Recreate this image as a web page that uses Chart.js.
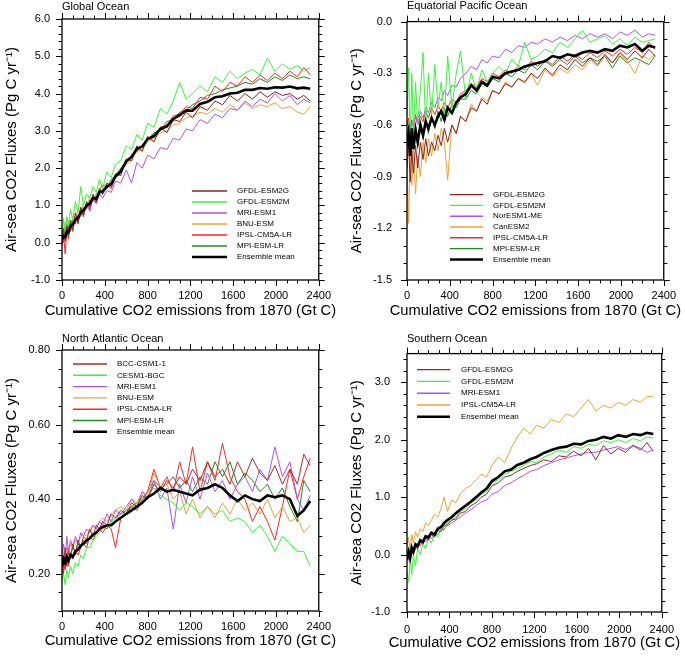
<!DOCTYPE html>
<html>
<head>
<meta charset="utf-8">
<script src="https://cdn.jsdelivr.net/npm/chart.js@4.4.1/dist/chart.umd.min.js"></script>
<style>
  body { margin: 0; background: #fff; }
  #wrap { position: relative; width: 685px; height: 659px; background: #fff; }
  canvas { position: absolute; }
</style>
</head>
<body>
<div id="wrap">
  <canvas id="c1" width="340" height="330" style="left:0;top:0"></canvas>
  <canvas id="c2" width="345" height="330" style="left:340px;top:0"></canvas>
  <canvas id="c3" width="340" height="329" style="left:0;top:330px"></canvas>
  <canvas id="c4" width="345" height="329" style="left:340px;top:330px"></canvas>
</div>
<script>
// cumulative CO2 emissions since 1870 (Gt C), shared x values of every series
const CUM_EMISSIONS = [0,15,30,45,60,80,100,125,150,175,200,230,260,290,320,350,380,420,460,500,
  550,600,650,700,750,800,860,920,980,1040,1100,1160,1220,1290,1360,1430,1500,1570,1640,1710,
  1780,1850,1920,1990,2060,2130,2200,2260,2320];
const X_TICKS = [0, 400, 800, 1200, 1600, 2000, 2400];
const X_TITLE = 'Cumulative CO2 emissions from 1870 (Gt C)';
const Y_TITLE = 'Air-sea CO2 Fluxes (Pg C yr\u207B\u00B9)';

// ---- Global Ocean
const globalYTicks = [-1, 0, 1, 2, 3, 4, 5, 6];
const globalEsm2g = [0.0,0.35,0.05,0.45,0.2,0.6,0.35,0.8,0.55,0.95,0.75,1.1,0.95,1.3,1.1,1.45,1.3,1.6,1.5,1.85,
  1.8,2.25,2.2,2.6,2.45,2.85,2.7,3.1,2.95,3.3,3.25,3.5,3.35,3.65,3.55,3.8,3.7,3.95,3.8,4.0,
  3.85,4.05,3.9,4.05,3.95,4.0,3.85,3.95,3.8];
const globalEsm2m = [0.3,0.65,0.1,0.7,0.45,0.9,0.6,1.1,0.8,1.5,1.0,1.3,1.2,1.5,1.35,1.7,1.45,1.9,1.75,2.1,
  2.2,2.6,2.5,2.9,2.75,3.2,3.1,3.6,3.45,3.8,4.3,3.85,4.0,4.2,4.05,4.45,4.3,4.6,4.4,4.55,
  4.65,4.5,4.95,4.6,4.8,4.65,4.75,4.6,4.7];
const globalMri = [0.1,0.4,0.2,0.5,0.3,0.55,0.45,0.7,0.6,0.85,0.75,1.05,0.9,1.15,1.05,1.3,1.2,1.4,1.35,1.65,
  1.6,1.95,1.6,2.15,2.0,2.35,2.25,2.55,2.5,2.8,2.75,3.05,3.0,3.3,3.2,3.45,3.35,3.6,3.55,3.8,
  3.65,3.85,3.75,4.0,3.8,3.95,3.7,3.85,3.75];
const globalBnu = [0.4,0.2,0.55,0.3,0.6,0.45,0.7,0.65,0.9,0.85,1.05,1.0,1.2,1.15,1.3,1.45,1.5,1.6,1.55,1.8,
  1.9,2.1,2.2,2.45,2.5,2.7,2.8,2.95,3.0,3.15,3.2,3.35,3.4,3.5,3.45,3.6,3.5,3.7,3.55,3.75,
  3.6,3.7,3.65,3.75,3.6,3.65,3.5,3.45,3.65];
const globalIpsl = [-0.1,0.2,-0.3,0.35,0.1,0.5,0.3,0.7,0.5,0.9,0.7,1.05,0.85,1.25,1.05,1.4,1.3,1.55,1.45,1.75,
  1.85,2.15,2.3,2.45,2.6,2.8,2.9,3.1,3.15,3.4,3.45,3.65,3.6,3.9,3.85,4.2,4.05,4.3,4.2,4.45,
  4.3,4.5,4.35,4.55,4.4,4.6,4.45,4.7,4.5];
const globalMpi = [0.2,0.0,0.4,0.15,0.5,0.3,0.6,0.5,0.75,0.7,0.95,0.9,1.15,1.1,1.3,1.4,1.55,1.5,1.7,1.8,
  2.0,2.15,2.35,2.45,2.6,2.75,2.95,3.0,3.25,3.3,3.5,3.55,3.7,3.8,3.95,4.0,4.1,4.15,4.2,4.3,
  4.25,4.4,4.3,4.45,4.35,4.5,4.4,4.45,4.4];
const globalMean = [0.08,0.18,0.15,0.3,0.28,0.45,0.48,0.62,0.66,0.82,0.86,1.0,1.05,1.2,1.18,1.35,1.38,1.5,1.58,1.78,
  1.92,2.18,2.3,2.52,2.58,2.78,2.86,3.05,3.12,3.32,3.42,3.55,3.54,3.72,3.78,3.9,3.93,4.0,4.02,4.1,
  4.1,4.15,4.13,4.17,4.16,4.19,4.14,4.16,4.13];

// ---- Equatorial Pacific Ocean
const eqYTicks = [-1.5, -1.2, -0.9, -0.6, -0.3, 0.0];
const eqEsm2g = [-0.85,-0.7,-0.93,-0.75,-0.88,-0.72,-0.85,-0.7,-0.8,-0.68,-0.78,-0.7,-0.75,-0.66,-0.72,-0.62,-0.7,-0.6,-0.65,-0.55,
  -0.58,-0.5,-0.52,-0.45,-0.48,-0.4,-0.42,-0.36,-0.38,-0.33,-0.35,-0.3,-0.33,-0.27,-0.31,-0.25,-0.28,-0.22,-0.26,-0.21,
  -0.25,-0.19,-0.24,-0.18,-0.22,-0.17,-0.21,-0.16,-0.2];
const eqEsm2m = [-0.55,-0.27,-0.7,-0.3,-0.65,-0.35,-0.6,-0.4,-0.18,-0.62,-0.3,-0.55,-0.25,-0.5,-0.35,-0.55,-0.2,-0.5,-0.3,-0.17,
  -0.45,-0.3,-0.4,-0.28,-0.35,-0.3,-0.26,-0.3,-0.22,-0.26,-0.12,-0.22,-0.2,-0.16,-0.18,-0.12,-0.15,-0.1,-0.05,-0.12,
  -0.1,-0.08,-0.13,-0.1,-0.14,-0.09,-0.12,-0.11,-0.1];
const eqNoresm = [-0.65,-0.6,-0.68,-0.58,-0.62,-0.55,-0.6,-0.52,-0.56,-0.5,-0.53,-0.47,-0.5,-0.44,-0.46,-0.4,-0.43,-0.37,-0.38,-0.33,
  -0.3,-0.26,-0.28,-0.22,-0.24,-0.2,-0.21,-0.16,-0.18,-0.14,-0.15,-0.12,-0.13,-0.1,-0.12,-0.09,-0.11,-0.08,-0.1,-0.07,
  -0.09,-0.07,-0.1,-0.06,-0.08,-0.05,-0.09,-0.07,-0.08];
const eqCanesm = [-0.8,-1.17,-0.75,-0.95,-0.72,-1.0,-0.78,-0.9,-0.7,-0.82,-0.68,-0.78,-0.65,-0.75,-0.62,-0.7,-0.92,-0.6,-0.65,-0.55,
  -0.58,-0.48,-0.52,-0.44,-0.46,-0.4,-0.42,-0.35,-0.38,-0.33,-0.36,-0.3,-0.37,-0.28,-0.32,-0.27,-0.3,-0.25,-0.28,-0.22,
  -0.26,-0.2,-0.24,-0.19,-0.23,-0.3,-0.2,-0.22,-0.19];
const eqIpsl = [-0.6,-0.56,-0.63,-0.57,-0.6,-0.54,-0.6,-0.55,-0.58,-0.52,-0.56,-0.5,-0.54,-0.49,-0.52,-0.47,-0.5,-0.45,-0.47,-0.42,
  -0.4,-0.36,-0.38,-0.33,-0.35,-0.3,-0.32,-0.28,-0.3,-0.26,-0.28,-0.23,-0.26,-0.22,-0.25,-0.2,-0.23,-0.19,-0.22,-0.18,
  -0.21,-0.17,-0.2,-0.16,-0.19,-0.15,-0.18,-0.12,-0.16];
const eqMpi = [-0.78,-0.65,-0.8,-0.62,-0.75,-0.6,-0.72,-0.58,-0.68,-0.57,-0.65,-0.55,-0.62,-0.52,-0.58,-0.5,-0.55,-0.48,-0.5,-0.45,
  -0.45,-0.4,-0.42,-0.36,-0.38,-0.33,-0.35,-0.3,-0.32,-0.28,-0.3,-0.25,-0.28,-0.23,-0.26,-0.22,-0.25,-0.2,-0.24,-0.21,
  -0.23,-0.2,-0.27,-0.2,-0.24,-0.21,-0.23,-0.25,-0.2];
const eqMean = [-0.72,-0.65,-0.78,-0.62,-0.74,-0.63,-0.7,-0.6,-0.66,-0.58,-0.62,-0.56,-0.6,-0.55,-0.52,-0.57,-0.5,-0.53,-0.47,-0.44,
  -0.42,-0.37,-0.4,-0.35,-0.37,-0.32,-0.33,-0.3,-0.29,-0.28,-0.26,-0.25,-0.24,-0.23,-0.2,-0.21,-0.19,-0.2,-0.18,-0.17,
  -0.18,-0.16,-0.17,-0.14,-0.15,-0.13,-0.17,-0.14,-0.15];

// ---- North Atlantic Ocean
const naYTicks = [0.2, 0.4, 0.6, 0.8];
const naBcc = [0.24,0.2,0.27,0.22,0.26,0.24,0.28,0.25,0.29,0.27,0.3,0.29,0.32,0.3,0.33,0.32,0.34,0.33,0.36,0.35,
  0.37,0.36,0.39,0.38,0.41,0.4,0.44,0.42,0.45,0.43,0.46,0.44,0.48,0.45,0.5,0.46,0.48,0.44,0.5,0.46,
  0.51,0.47,0.45,0.49,0.44,0.48,0.44,0.52,0.49];
const naCesm = [0.18,0.2,0.17,0.21,0.19,0.22,0.2,0.23,0.22,0.25,0.24,0.27,0.27,0.29,0.3,0.31,0.32,0.33,0.34,0.35,
  0.35,0.37,0.37,0.39,0.4,0.41,0.43,0.41,0.4,0.39,0.37,0.39,0.38,0.36,0.38,0.36,0.37,0.34,0.35,0.34,
  0.31,0.33,0.3,0.26,0.3,0.28,0.26,0.26,0.22];
const naMri = [0.25,0.28,0.24,0.3,0.26,0.29,0.27,0.3,0.28,0.31,0.3,0.32,0.31,0.33,0.32,0.34,0.33,0.36,0.34,0.37,
  0.36,0.38,0.4,0.38,0.42,0.4,0.45,0.4,0.43,0.32,0.44,0.39,0.46,0.4,0.47,0.42,0.45,0.4,0.44,0.46,
  0.42,0.48,0.45,0.54,0.46,0.5,0.4,0.37,0.41];
const naBnu = [0.23,0.26,0.24,0.27,0.25,0.28,0.27,0.29,0.28,0.3,0.31,0.3,0.32,0.33,0.32,0.34,0.35,0.34,0.36,0.37,
  0.38,0.37,0.4,0.39,0.42,0.41,0.47,0.43,0.44,0.4,0.42,0.36,0.4,0.35,0.38,0.35,0.39,0.36,0.4,0.37,
  0.39,0.36,0.4,0.35,0.38,0.34,0.35,0.31,0.33];
const naIpsl = [0.2,0.23,0.21,0.24,0.22,0.25,0.24,0.26,0.25,0.27,0.28,0.27,0.3,0.29,0.31,0.32,0.31,0.33,0.32,0.27,
  0.35,0.36,0.38,0.37,0.4,0.42,0.48,0.43,0.46,0.42,0.5,0.44,0.54,0.42,0.5,0.45,0.55,0.46,0.42,0.4,
  0.34,0.38,0.34,0.29,0.38,0.48,0.4,0.46,0.51];
const naMpi = [0.25,0.22,0.26,0.24,0.27,0.25,0.27,0.26,0.28,0.27,0.29,0.28,0.3,0.3,0.31,0.32,0.33,0.32,0.34,0.35,
  0.36,0.37,0.38,0.39,0.4,0.42,0.45,0.43,0.44,0.46,0.43,0.45,0.42,0.46,0.44,0.5,0.46,0.5,0.44,0.47,
  0.45,0.42,0.44,0.4,0.43,0.38,0.34,0.45,0.42];
const naMean = [0.22,0.24,0.23,0.245,0.235,0.25,0.245,0.26,0.265,0.275,0.28,0.29,0.295,0.305,0.31,0.32,0.325,0.33,0.33,0.34,
  0.35,0.36,0.37,0.38,0.39,0.405,0.415,0.43,0.42,0.425,0.42,0.415,0.41,0.425,0.43,0.44,0.43,0.41,0.395,0.41,
  0.4,0.395,0.41,0.405,0.41,0.4,0.355,0.37,0.395];

// ---- Southern Ocean
const soYTicks = [-1, 0, 1, 2, 3];
const soEsm2g = [-0.1,0.05,-0.15,0.1,0.0,0.15,0.1,0.22,0.18,0.3,0.25,0.35,0.3,0.42,0.4,0.5,0.52,0.6,0.62,0.72,
  0.75,0.85,0.9,1.0,1.05,1.2,1.25,1.35,1.38,1.45,1.5,1.55,1.58,1.65,1.62,1.72,1.7,1.8,1.72,1.85,
  1.65,1.9,1.75,1.85,1.78,1.9,1.82,1.95,1.8];
const soEsm2m = [-0.3,-0.48,-0.1,-0.35,0.0,-0.2,0.1,0.0,0.2,0.1,0.28,0.2,0.38,0.3,0.45,0.42,0.55,0.6,0.65,0.75,
  0.8,0.9,0.95,1.05,1.1,1.25,1.3,1.4,1.45,1.5,1.55,1.62,1.6,1.7,1.75,1.82,1.78,1.88,1.85,1.92,
  1.9,1.98,1.95,2.0,1.95,2.02,1.98,2.05,2.03];
const soMri = [0.0,-0.1,0.08,0.0,0.12,0.08,0.18,0.15,0.25,0.22,0.3,0.28,0.36,0.35,0.42,0.45,0.5,0.55,0.6,0.65,
  0.72,0.78,0.85,0.92,0.95,1.05,1.1,1.2,1.25,1.32,1.38,1.45,1.48,1.55,1.6,1.65,1.68,1.72,1.75,1.78,
  1.78,1.82,1.85,1.88,1.83,1.9,1.85,1.78,1.82];
const soIpsl = [0.15,0.3,0.05,0.35,0.2,0.4,0.3,0.45,0.4,0.55,0.5,0.6,0.7,0.65,0.8,1.0,0.75,0.95,0.9,1.05,
  1.15,1.2,1.3,1.4,1.35,1.55,1.7,1.6,1.85,2.05,2.2,2.1,2.25,2.2,2.35,2.3,2.45,2.4,2.55,2.7,
  2.5,2.6,2.55,2.65,2.6,2.7,2.65,2.75,2.75];
const soMean = [-0.08,0.05,-0.05,0.12,0.05,0.18,0.15,0.25,0.22,0.32,0.3,0.38,0.35,0.45,0.48,0.55,0.6,0.65,0.72,0.78,
  0.85,0.92,1.0,1.08,1.15,1.28,1.35,1.45,1.48,1.56,1.6,1.66,1.7,1.77,1.82,1.86,1.88,1.93,1.92,1.98,
  2.0,2.05,2.02,2.08,2.05,2.1,2.08,2.12,2.1];

const COL = {
  brown: '#8e1f1f',
  lime: '#38f538',
  purple: '#b050f0',
  orange: '#eca236',
  red: '#ff2626',
  green: '#1e8c1e',
  black: '#000000'
};

const FONT = "'Liberation Sans', Arial, Helvetica, sans-serif";
Chart.defaults.font.family = FONT;
Chart.defaults.color = '#000';

// frame, ticks (major + minor on all four sides), panel title, x title and legend
const framePlugin = {
  id: 'frame',
  afterDraw(chart, args, o) {
    const ctx = chart.ctx;
    const a = chart.chartArea;
    const xs = chart.scales.x, ys = chart.scales.y;
    ctx.save();
    ctx.strokeStyle = '#000';
    ctx.lineWidth = 1.3;
    ctx.strokeRect(a.left, a.top, a.right - a.left, a.bottom - a.top);

    ctx.lineWidth = 1;
    ctx.beginPath();
    const nx = Math.round((xs.max - xs.min) / o.xMinor);
    for (let i = 0; i <= nx; i++) {
      const v = xs.min + i * o.xMinor;
      const len = X_TICKS.some(t => Math.abs(t - v) < 1e-6) ? 6 : 3.5;
      const px = Math.round(xs.getPixelForValue(v)) + 0.5;
      ctx.moveTo(px, a.bottom); ctx.lineTo(px, a.bottom + len);
      ctx.moveTo(px, a.top); ctx.lineTo(px, a.top - len);
    }
    const ny = Math.floor((ys.max - ys.min) / o.yMinor + 1e-6);
    for (let i = 0; i <= ny; i++) {
      const v = ys.min + i * o.yMinor;
      const len = o.yTicks.some(t => Math.abs(t - v) < 1e-6) ? 6 : 3.5;
      const py = Math.round(ys.getPixelForValue(v)) + 0.5;
      ctx.moveTo(a.left, py); ctx.lineTo(a.left - len, py);
      ctx.moveTo(a.right, py); ctx.lineTo(a.right + len, py);
    }
    ctx.stroke();

    ctx.fillStyle = '#000';
    ctx.font = '11px ' + FONT;
    ctx.textAlign = 'left';
    ctx.textBaseline = 'alphabetic';
    ctx.fillText(o.title, a.left, o.titleY);

    // x axis title, drawn without the scale-width squeeze
    ctx.font = '14.7px ' + FONT;
    ctx.textAlign = 'center';
    ctx.textBaseline = 'middle';
    ctx.fillText(X_TITLE, (a.left + a.right) / 2, o.xTitleY);

    const lg = o.legend;
    ctx.font = '8px ' + FONT;
    ctx.textAlign = 'left';
    chart.data.datasets.forEach((d, i) => {
      const y = a.top + lg.dy + i * lg.gap;
      ctx.beginPath();
      ctx.strokeStyle = d.borderColor;
      ctx.lineWidth = d.order === 0 ? 2.5 : 1.4;
      ctx.moveTo(a.left + lg.dx, y);
      ctx.lineTo(a.left + lg.dx + lg.len, y);
      ctx.stroke();
      ctx.fillText(d.label, a.left + lg.textDx, y);
    });
    ctx.restore();
  }
};

function buildPanel(id, p) {
  const datasets = p.series.map(s => ({
    label: s.name,
    data: CUM_EMISSIONS.map((x, k) => ({ x: x, y: s.values[k] })),
    borderColor: s.color,
    borderWidth: s.mean ? 2.6 : 1,
    pointRadius: 0,
    tension: 0,
    order: s.mean ? 0 : 1
  }));

  new Chart(document.getElementById(id), {
    type: 'line',
    data: { datasets: datasets },
    plugins: [framePlugin],
    options: {
      responsive: false,
      animation: false,
      events: [],
      layout: { padding: { left: 0, top: p.pad.top, right: p.pad.right, bottom: p.pad.bottom } },
      plugins: {
        legend: { display: false },
        tooltip: { enabled: false },
        frame: {
          title: p.title, titleY: p.titleY, xTitleY: p.xTitleY,
          xMinor: 100, yMinor: p.yMinor, yTicks: p.yTicks,
          legend: p.legend
        }
      },
      scales: {
        x: {
          type: 'linear',
          min: 0,
          max: 2400,
          afterBuildTicks: s => { s.ticks = X_TICKS.map(v => ({ value: v })); },
          afterFit: s => { s.height = p.xAxisH; },
          grid: { display: false, drawTicks: false },
          border: { display: false },
          ticks: { font: { size: 11 }, padding: p.xTickPad, maxRotation: 0, autoSkip: false,
                   callback: v => String(v) },
          title: { display: false }
        },
        y: {
          type: 'linear',
          min: p.yMin,
          max: p.yMax,
          afterBuildTicks: s => { s.ticks = p.yTicks.map(v => ({ value: v })); },
          afterFit: s => { s.width = p.yAxisW; },
          grid: { display: false, drawTicks: false },
          border: { display: false },
          ticks: { font: { size: 11 }, padding: p.yTickPad, autoSkip: false,
                   callback: v => v.toFixed(p.decimals) },
          title: { display: true, text: Y_TITLE,
                   font: { size: 15 }, padding: { top: p.yTitlePad, bottom: 0 } }
        }
      }
    }
  });
}

buildPanel('c1', {
  title: 'Global Ocean', titleY: 9.5, xTitleY: 311,
  yMin: -1, yMax: 6, yTicks: globalYTicks, yMinor: 0.2, decimals: 1,
  pad: { top: 19, right: 16, bottom: 4 }, yAxisW: 62, xAxisH: 46,
  yTickPad: 12, yTitlePad: 3, xTickPad: 9,
  legend: { dx: 130, dy: 172, len: 35, textDx: 175, gap: 11 },
  series: [
    { name: 'GFDL-ESM2G', values: globalEsm2g, color: COL.brown },
    { name: 'GFDL-ESM2M', values: globalEsm2m, color: COL.lime },
    { name: 'MRI-ESM1', values: globalMri, color: COL.purple },
    { name: 'BNU-ESM', values: globalBnu, color: COL.orange },
    { name: 'IPSL-CM5A-LR', values: globalIpsl, color: COL.red },
    { name: 'MPI-ESM-LR', values: globalMpi, color: COL.green },
    { name: 'Ensemble mean', values: globalMean, color: COL.black, mean: true }
  ]
});

buildPanel('c2', {
  title: 'Equatorial Pacific Ocean', titleY: 9, xTitleY: 311,
  yMin: -1.5, yMax: 0, yTicks: eqYTicks, yMinor: 0.1, decimals: 1,
  pad: { top: 19, right: 19, bottom: 4 }, yAxisW: 67, xAxisH: 46,
  yTickPad: 15, yTitlePad: 8, xTickPad: 9,
  legend: { dx: 43, dy: 173, len: 33, textDx: 86, gap: 10.8 },
  series: [
    { name: 'GFDL-ESM2G', values: eqEsm2g, color: COL.brown },
    { name: 'GFDL-ESM2M', values: eqEsm2m, color: COL.lime },
    { name: 'NorESM1-ME', values: eqNoresm, color: COL.purple },
    { name: 'CanESM2', values: eqCanesm, color: COL.orange },
    { name: 'IPSL-CM5A-LR', values: eqIpsl, color: COL.red },
    { name: 'MPI-ESM-LR', values: eqMpi, color: COL.green },
    { name: 'Ensemble mean', values: eqMean, color: COL.black, mean: true }
  ]
});

buildPanel('c3', {
  title: 'North Atlantic Ocean', titleY: 12, xTitleY: 311,
  yMin: 0.1, yMax: 0.8, yTicks: naYTicks, yMinor: 0.05, decimals: 2,
  pad: { top: 20, right: 16, bottom: 4 }, yAxisW: 62, xAxisH: 44,
  yTickPad: 12, yTitlePad: 3, xTickPad: 9,
  legend: { dx: 11, dy: 14, len: 34, textDx: 55, gap: 11.3 },
  series: [
    { name: 'BCC-CSM1-1', values: naBcc, color: '#b02a2a' },
    { name: 'CESM1-BGC', values: naCesm, color: COL.lime },
    { name: 'MRI-ESM1', values: naMri, color: COL.purple },
    { name: 'BNU-ESM', values: naBnu, color: COL.orange },
    { name: 'IPSL-CM5A-LR', values: naIpsl, color: COL.red },
    { name: 'MPI-ESM-LR', values: naMpi, color: COL.green },
    { name: 'Ensemble mean', values: naMean, color: COL.black, mean: true }
  ]
});

buildPanel('c4', {
  title: 'Southern Ocean', titleY: 12, xTitleY: 313,
  yMin: -1, yMax: 3.5, yTicks: soYTicks, yMinor: 0.2, decimals: 1,
  pad: { top: 21, right: 19, bottom: 4 }, yAxisW: 67, xAxisH: 43,
  yTickPad: 17, yTitlePad: 8, xTickPad: 11,
  legend: { dx: 10, dy: 16, len: 33, textDx: 54, gap: 11.8 },
  series: [
    { name: 'GFDL-ESM2G', values: soEsm2g, color: '#8e2f2f' },
    { name: 'GFDL-ESM2M', values: soEsm2m, color: COL.lime },
    { name: 'MRI-ESM1', values: soMri, color: COL.purple },
    { name: 'IPSL-CM5A-LR', values: soIpsl, color: COL.orange },
    { name: 'Ensembel mean', values: soMean, color: COL.black, mean: true }
  ]
});
</script>
</body>
</html>
